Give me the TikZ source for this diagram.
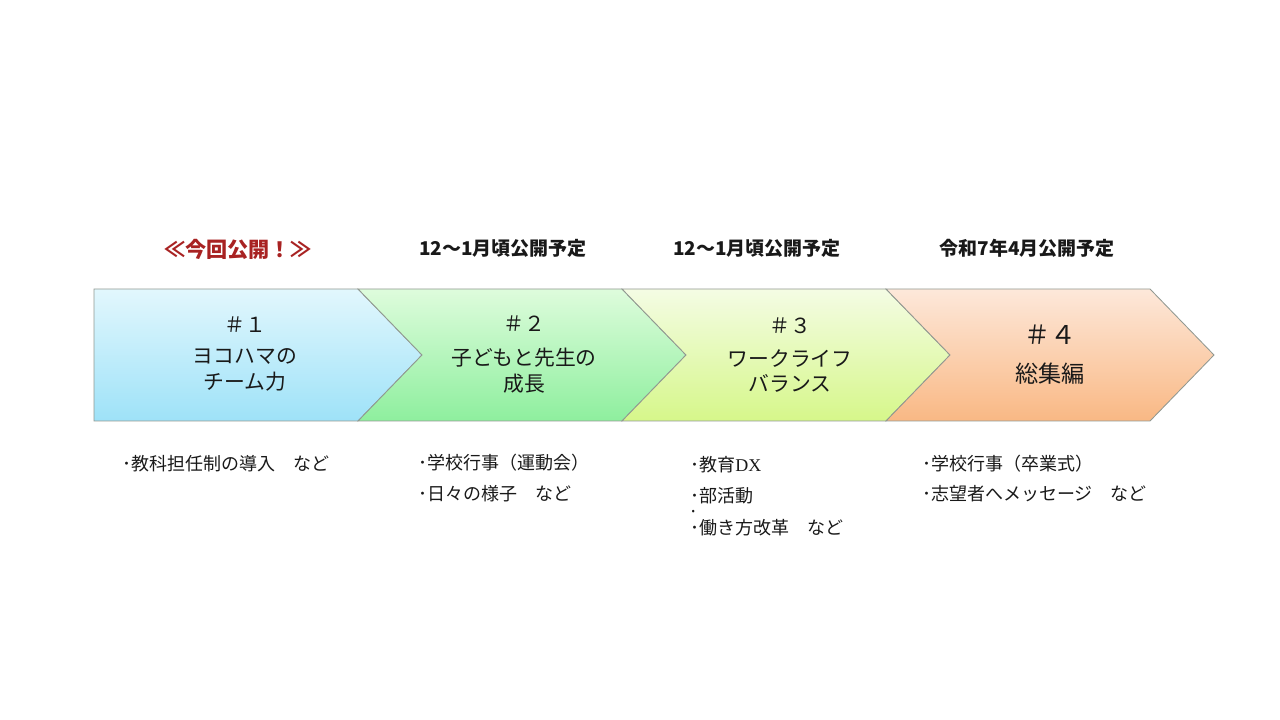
\documentclass[tikz,border=0pt]{standalone}
\usepackage{fontspec}
\setmainfont{Noto Sans CJK JP}
\newfontfamily\dxfont{Liberation Serif}
\usepackage{xcolor}
\definecolor{primary}{RGB}{168,34,34}
\definecolor{dark}{RGB}{25,25,25}
\definecolor{edge}{RGB}{145,152,145}
\definecolor{top1}{RGB}{226,247,253}
\definecolor{bot1}{RGB}{158,226,248}
\definecolor{top2}{RGB}{222,252,220}
\definecolor{bot2}{RGB}{142,239,158}
\definecolor{top3}{RGB}{244,252,228}
\definecolor{bot3}{RGB}{214,247,138}
\definecolor{top4}{RGB}{253,232,218}
\definecolor{bot4}{RGB}{249,184,132}
\usepackage{tikz}
\usetikzlibrary{
    arrows.meta,
    positioning,
    calc
}
\tikzset{
    head/.style={inner sep=0pt, text=dark, font=\bfseries\fontsize{13.5}{16}\selectfont},
    num/.style={inner sep=0pt, text=dark, font=\fontsize{14.8}{18}\selectfont},
    title/.style={inner sep=0pt, text=dark, align=center, font=\fontsize{14.8}{18.4}\selectfont},
    item/.style={inner sep=0pt, anchor=west, text=dark, font=\fontsize{12.8}{15}\selectfont}
}

\begin{document}
\begin{tikzpicture}[x=0.025cm, y=0.025cm]
    \useasboundingbox (0,0) rectangle (1280,-720);
    \foreach \i/\xa/\nd in {1/94/0, 2/358/64, 3/622/64, 4/886/64}{
        \shadedraw[top color=top\i, bottom color=bot\i, draw=edge, line width=0.6pt, line join=miter]
            (\xa,-289) -- ++(264,0) -- ++(64,-66) -- ++(-64,-66) -- (\xa,-421) -- ++(\nd,66) -- cycle;
    }

    \node[head, text=primary, font=\bfseries\fontsize{15}{18}\selectfont] (head1) at (238,-249) {≪今回公開！≫};
    \node[head] (head2) at (503,-248) {12～1月頃公開予定};
    \node[head] (head3) at (757,-248) {12～1月頃公開予定};
    \node[head] (head4) at (1027,-248) {令和7年4月公開予定};

    \node[num] (num1) at (245,-325) {＃１};
    \node[title] (title1) at (245,-370) {ヨコハマの\\チーム力};
    \node[num] (num2) at (524,-324) {＃２};
    \node[title] (title2) at (524,-371) {子どもと先生の\\成長};
    \node[num] (num3) at (790,-326) {＃３};
    \node[title] (title3) at (790,-371) {ワークライフ\\バランス};
    \node[num, font=\fontsize{18.4}{22}\selectfont] (num4) at (1050,-335) {＃４};
    \node[title, font=\fontsize{16.5}{20}\selectfont] (title4) at (1050,-374) {総集編};

    \node[item] (list1a) at (122,-464) {･教科担任制の導入　など};
    \node[item] (list2a) at (418,-463) {･学校行事（運動会）};
    \node[item] (list2b) at (418,-494) {･日々の様子　など};
    \node[item] (list3a) at (690,-465) {･教育{\dxfont DX}};
    \node[item] (list3b) at (690,-496) {･部活動};
    \node[item, font=\fontsize{7}{8}\selectfont, xshift=1pt] (list3c) at (690,-512) {•};
    \node[item] (list3d) at (690,-528) {･働き方改革　など};
    \node[item] (list4a) at (922,-464) {･学校行事（卒業式）};
    \node[item] (list4b) at (922,-494) {･志望者へメッセージ　など};
\end{tikzpicture}
\end{document}
